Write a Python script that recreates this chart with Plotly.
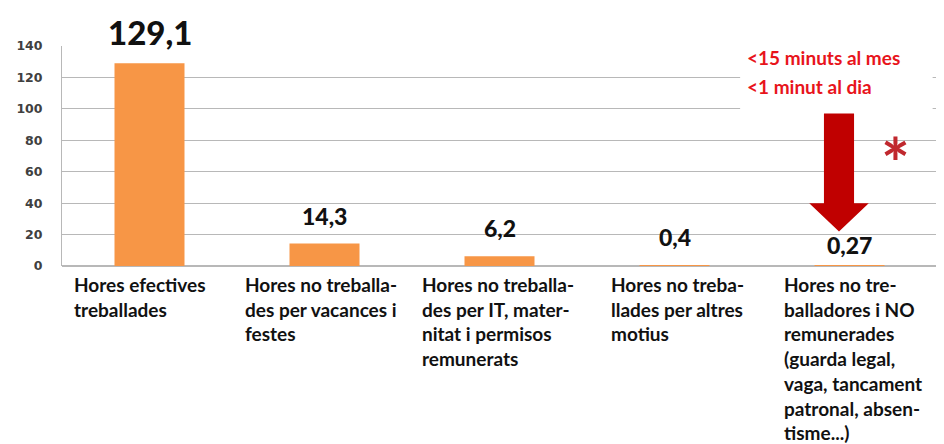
import plotly.graph_objects as go

categories = ["c1", "c2", "c3", "c4", "c5"]
values = [129.1, 14.3, 6.2, 0.4, 0.27]
value_labels = ["129,1", "14,3", "6,2", "0,4", "0,27"]
cat_labels = [
    "Hores efectives<br>treballades",
    "Hores no treballa-<br>des per vacances i<br>festes",
    "Hores no treballa-<br>des per IT, mater-<br>nitat i permisos<br>remunerats",
    "Hores no treba-<br>llades per altres<br>motius",
    "Hores no tre-<br>balladores i NO<br>remunerades<br>(guarda legal,<br>vaga, tancament<br>patronal, absen-<br>tisme...)",
]
note_lines = ["<15 minuts al mes", "<1 minut al dia"]
y_ticks = [0, 20, 40, 60, 80, 100, 120, 140]

FONT = "Lato"
fig = go.Figure()
fig.add_trace(go.Bar(
    x=list(range(len(categories))), y=values, width=0.4,
    marker=dict(color="#f79646", line=dict(width=0)),
    hoverinfo="skip",
))

ann = []
for i, (v, t) in enumerate(zip(values, value_labels)):
    ysh = [9, 12, 12, 12, 5][i]
    ann.append(dict(x=i, y=v, xref="x", yref="y", text=t, showarrow=False,
                    yanchor="bottom", yshift=ysh,
                    font=dict(family=FONT, size=33 if i == 0 else 23, color="#111", weight=900)))
label_shift = [-78, -82, -80, -66, -68]
for i, t in enumerate(cat_labels):
    ann.append(dict(x=i, y=0, xref="x", yref="y", text=t, showarrow=False,
                    xanchor="left", yanchor="top", align="left",
                    xshift=label_shift[i], yshift=-5,
                    font=dict(family=FONT, size=19, color="#111", weight="bold")))
for yy, t in zip([0.95, 0.814], note_lines):
    ann.append(dict(x=0.781, y=yy, xref="paper", yref="paper", xanchor="left", yanchor="middle",
                    align="left", showarrow=False, text=t,
                    font=dict(family=FONT, size=19, color="#e8141b", weight="bold")))
ann.append(dict(x=4.26, y=66, xref="x", yref="y", text="*", showarrow=False,
                font=dict(family=FONT, size=68, color="#c0282e", weight="bold")))

# white note box and arrow (decorations)
cx, hw, sw = 3.94, 0.17, 0.086
top, headtop, tip = 97, 40, 22
path = (f"M {cx-sw} {top} L {cx+sw} {top} L {cx+sw} {headtop} L {cx+hw} {headtop} "
        f"L {cx} {tip} L {cx-hw} {headtop} L {cx-sw} {headtop} Z")
shapes = [
    dict(type="rect", xref="paper", yref="paper", x0=0.775, x1=0.995, y0=0.70, y1=1.03,
         fillcolor="white", line=dict(width=0), layer="above"),
    dict(type="path", path=path, xref="x", yref="y", fillcolor="#c00000",
         line=dict(width=0), layer="above"),
]

fig.update_layout(
    width=936, height=436,
    margin=dict(l=54, r=7, t=38, b=178, autoexpand=False),
    paper_bgcolor="white", plot_bgcolor="white",
    showlegend=False,
    xaxis=dict(range=[-0.5, 4.5], showticklabels=False, showgrid=False, zeroline=False,
               showline=False, fixedrange=True),
    yaxis=dict(range=[0, 140], tickvals=y_ticks, showgrid=True, gridcolor="#b8b8b8",
               gridwidth=1, zeroline=True, zerolinecolor="#b8b8b8", showline=True,
               linecolor="#b8b8b8", ticks="", ticklabelstandoff=16,
               tickfont=dict(family="DejaVu Sans", size=12.5, color="#404040", weight="bold"),
               fixedrange=True),
    annotations=ann, shapes=shapes,
)
fig.write_html("out.html")
